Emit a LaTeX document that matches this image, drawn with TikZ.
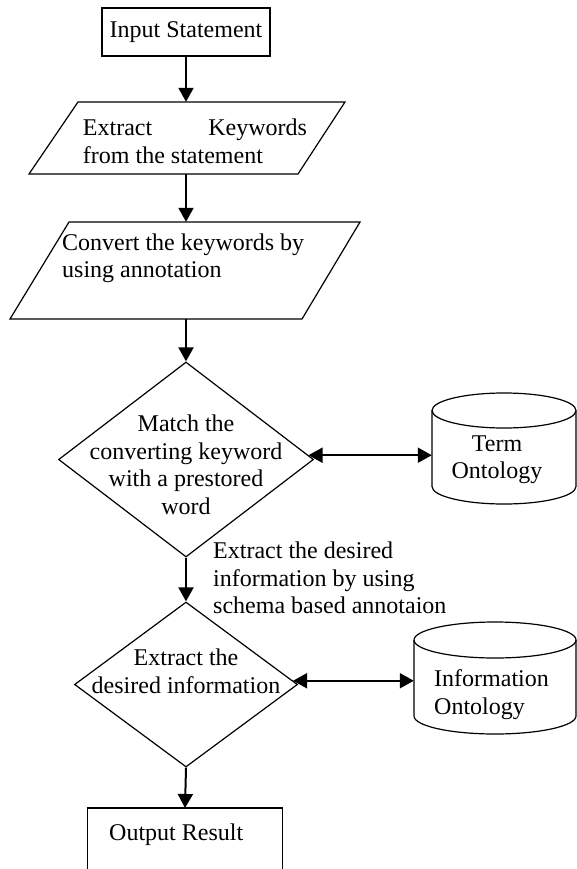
\documentclass[tikz,border=0pt]{standalone}
\usepackage{fontspec}
\setmainfont{Liberation Serif}
\usetikzlibrary{shapes.geometric,arrows.meta}
\begin{document}
\begin{tikzpicture}[x=1bp,y=-1bp,
  every node/.style={font=\fontsize{24bp}{27.5bp}\selectfont, inner sep=0pt},
  shp/.style={draw, line width=1.2bp},
  ghost/.style={draw=none, inner sep=0pt},
  flow/.style={line width=2bp, -{Triangle[length=14bp,width=15bp]}},
  both/.style={line width=2bp, {Triangle[length=14bp,width=15bp]}-{Triangle[length=14bp,width=15bp]}},
  dia/.style={diamond, draw, line width=1.2bp, inner sep=0pt}]
\useasboundingbox (0,0) rectangle (577,869);
\clip (0,0) rectangle (577,869);

% input
\node[shp, minimum width=168bp, minimum height=48bp] (in) at (186,32) {Input Statement};

% parallelogram 1
\node[ghost, minimum width=220bp, minimum height=72bp] (p1) at (186,138) {};
\draw[shp] (78,102) -- (345,102) -- (298,174) -- (29,174) -- cycle;
\node[align=left] (p1t) at (195,141.5) {\makebox[224bp][s]{Extract Keywords}\\from the statement};

% parallelogram 2
\node[ghost, minimum width=240bp, minimum height=97bp] (p2) at (186,270.5) {};
\draw[shp] (69,222) -- (360,222) -- (302,319) -- (10,319) -- cycle;
\node[align=left, anchor=west] (p2t) at (62,258.5) {Convert the keywords by\\using annotation};

% diamond 1
\node[dia, minimum width=255bp, minimum height=195bp] (d1) at (186,459.5) {};
\node[align=center] (d1t) at (186,465) {Match the\\converting keyword\\with a prestored\\word};

% term ontology cylinder
\node[ghost, minimum width=144bp, minimum height=111bp] (term) at (504,448.5) {};
\draw[shp] (504,410.5) ellipse [x radius=72, y radius=17.5];
\draw[shp] (432,410.5) -- (432,486.5) arc[start angle=180, end angle=0, x radius=72, y radius=17.5] -- (576,410.5);
\node[align=center] (termt) at (497,459.5) {Term\\Ontology};

% label
\node[align=left, anchor=west] (lbl) at (213,578) {Extract the desired\\information by using\\schema based annotaion};

% diamond 2
\node[dia, minimum width=223bp, minimum height=165bp] (d2) at (186,684.5) {};
\node[align=center] (d2t) at (186,671.5) {Extract the\\desired information};

% information ontology cylinder
\node[ghost, minimum width=162bp, minimum height=112bp] (info) at (495,678) {};
\draw[shp] (495,640) ellipse [x radius=81, y radius=18];
\draw[shp] (414,640) -- (414,716) arc[start angle=180, end angle=0, x radius=81, y radius=18] -- (576,640);
\node[align=left, anchor=west] (infot) at (434,694.5) {Information\\Ontology};

% output
\node[ghost, anchor=north, minimum width=194bp, minimum height=70bp] (out) at (185,808) {};
\draw[shp] (out.south west) |- (out.north east) -- (out.south east);
\node[anchor=west] (outt) at (109,835) {Output Result};

% connectors
\draw[flow] (in.south) -- (p1.north);
\draw[flow] (p1.south) -- (p2.north);
\draw[flow] (p2.south) -- (d1.north);
\draw[flow] (d1.south) -- (d2.north);
\draw[flow] (d2.south) -- (out.north);
\draw[both] (d1.2) -- (d1.2 -| term.west);
\draw[both] (d2.2) -- (d2.2 -| info.west);
\end{tikzpicture}
\end{document}
